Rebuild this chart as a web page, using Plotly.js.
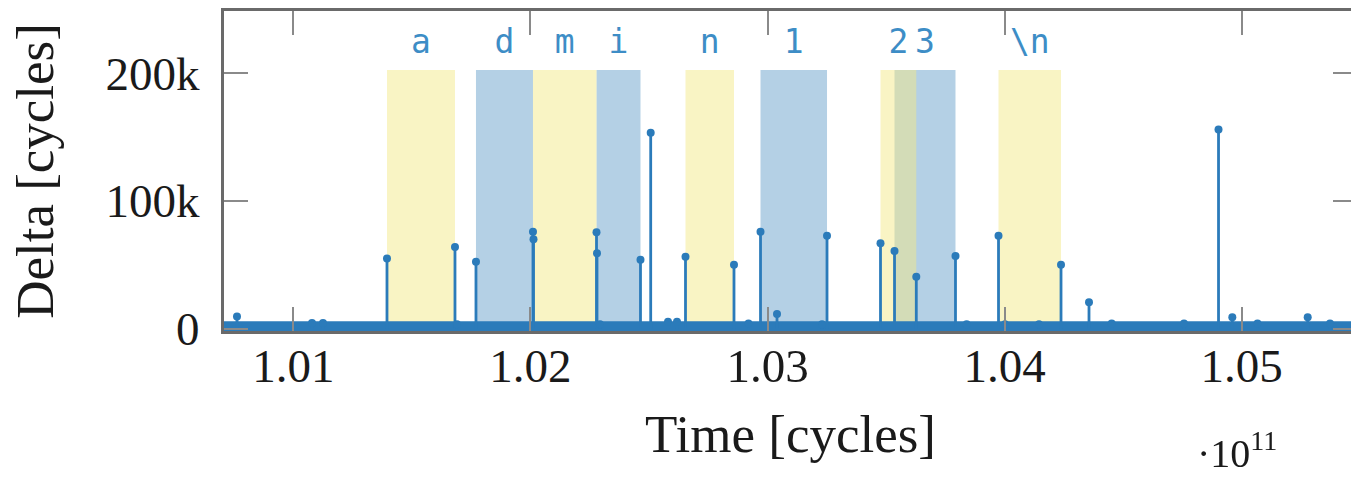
<!DOCTYPE html>
<html>
<head>
<meta charset="utf-8">
<script src="https://cdn.plot.ly/plotly-3.0.1.min.js"></script>
<style>
  html, body { margin: 0; padding: 0; background: #fff; overflow: hidden; }
  #chart { width: 1370px; height: 477px; }
</style>
</head>
<body>
<div id="chart"></div>
<script>
// ---- Data (time in units of 1e11 cycles, delta in cycles) ----
const eventTime = [
  1.007616, 1.010781, 1.011245, 1.013945, 1.016814, 1.016899, 1.017700,
  1.020105, 1.020127, 1.022785, 1.022806, 1.022932, 1.024641, 1.025072,
  1.025802, 1.026181, 1.026540, 1.028586, 1.029198, 1.029705, 1.030401,
  1.032300, 1.032511, 1.034768, 1.035359, 1.036278, 1.037932, 1.038401,
  1.039747, 1.040021, 1.041456, 1.042384, 1.043565, 1.044523, 1.047574,
  1.049030, 1.049612, 1.050675, 1.052793, 1.053734
];
const eventDelta = [
  9500, 4500, 4500, 55000, 64000, 3500, 52500,
  76000, 70000, 75500, 59000, 3500, 54000, 153500,
  5500, 5500, 56400, 50000, 4000, 76000, 11500,
  3500, 72800, 67000, 60800, 40700, 57000, 3500,
  72800, 3500, 3500, 50000, 20700, 4000, 4000,
  156000, 9000, 4000, 9000, 4000
];
// dense stream of short deltas that forms the thick floor
const floorTime = [1.0068, 1.0552];
const floorDelta = [2000, 2000];

// keystroke windows
const keyChar  = ['a', 'd', 'm', 'i', 'n', '1', '2', '3', '\\n'];
const keyStart = [1.013945, 1.017700, 1.020105, 1.022785, 1.026540, 1.029705, 1.034768, 1.035359, 1.039747];
const keyEnd   = [1.016814, 1.020105, 1.022785, 1.024641, 1.028586, 1.032511, 1.036278, 1.037932, 1.042384];
const keyShade = ['yellow', 'blue', 'yellow', 'blue', 'yellow', 'blue', 'yellow', 'blue', 'yellow'];
const keyBandTop = 202500;
const keyLabelLevel = 222000;

// ---- Build traces ----
const mids = keyStart.map((s, i) => (s + keyEnd[i]) / 2);
const widths = keyStart.map((s, i) => keyEnd[i] - s);
function bandTrace(shade, color, opacity) {
  const idx = keyShade.map((k, i) => k === shade ? i : -1).filter(i => i >= 0);
  return {
    type: 'bar',
    x: idx.map(i => mids[i]),
    y: idx.map(() => keyBandTop),
    width: idx.map(i => widths[i]),
    base: 0,
    marker: { color: color, line: { width: 0 } },
    opacity: opacity,
    hoverinfo: 'skip',
    showlegend: false
  };
}
const stemColor = '#2b7bba';
const traces = [
  bandTrace('blue', 'rgb(105,161,203)', 0.5),
  bandTrace('yellow', 'rgb(243,233,137)', 0.5),
  {
    type: 'scatter', mode: 'lines',
    x: floorTime, y: floorDelta,
    line: { color: stemColor, width: 10 },
    hoverinfo: 'skip', showlegend: false
  },
  {
    type: 'scatter', mode: 'markers',
    x: eventTime, y: eventDelta,
    marker: { color: stemColor, size: 8 },
    error_y: {
      type: 'data', symmetric: false,
      array: eventDelta.map(() => 0),
      arrayminus: eventDelta,
      width: 0, thickness: 2.8, color: stemColor
    },
    cliponaxis: false,
    showlegend: false
  },
  {
    type: 'scatter', mode: 'text',
    x: mids, y: keyChar.map(() => keyLabelLevel),
    text: keyChar,
    textposition: 'middle center',
    textfont: { family: 'DejaVu Sans Mono', size: 33, color: '#3d8dc6' },
    hoverinfo: 'skip', showlegend: false
  }
];

const serif = 'Liberation Serif, Times New Roman, serif';
const layout = {
  width: 1370, height: 477,
  margin: { l: 224, r: 13, t: 11, b: 146 },
  paper_bgcolor: '#fff', plot_bgcolor: '#fff',
  barmode: 'overlay',
  showlegend: false,
  font: { family: serif, color: '#1a1a1a' },
  xaxis: {
    range: [1.007068, 1.054873],
    tick0: 1.01, dtick: 0.01, tickformat: '.2f',
    ticks: 'inside', ticklen: 24, tickwidth: 2, tickcolor: '#8a8a8a',
    showline: true, linecolor: '#6a6a6a', linewidth: 3, mirror: 'ticks',
    showgrid: false, zeroline: false,
    tickfont: { family: serif, size: 47, color: '#1a1a1a' },
    ticklabelstandoff: -8,
    title: { text: 'Time [cycles]', font: { family: serif, size: 53, color: '#1a1a1a' }, standoff: 24 }
  },
  yaxis: {
    range: [-1800, 248800],
    tick0: 0, dtick: 100000, tickformat: '~s',
    ticks: 'inside', ticklen: 24, tickwidth: 2, tickcolor: '#8a8a8a',
    showline: true, linecolor: '#6a6a6a', linewidth: 3, mirror: 'ticks',
    showgrid: false, zeroline: false,
    tickfont: { family: serif, size: 47, color: '#1a1a1a' },
    ticklabelstandoff: 12,
    title: { text: 'Delta [cycles]', font: { family: serif, size: 53, color: '#1a1a1a' }, standoff: 36 }
  },
  annotations: [{
    xref: 'paper', yref: 'paper', x: 0.894, y: -0.372,
    xanchor: 'center', yanchor: 'middle', showarrow: false,
    text: '·10<sup>11</sup>',
    font: { family: serif, size: 40, color: '#1a1a1a' }
  }]
};

Plotly.newPlot('chart', traces, layout, { staticPlot: true, displayModeBar: false });
</script>
</body>
</html>
